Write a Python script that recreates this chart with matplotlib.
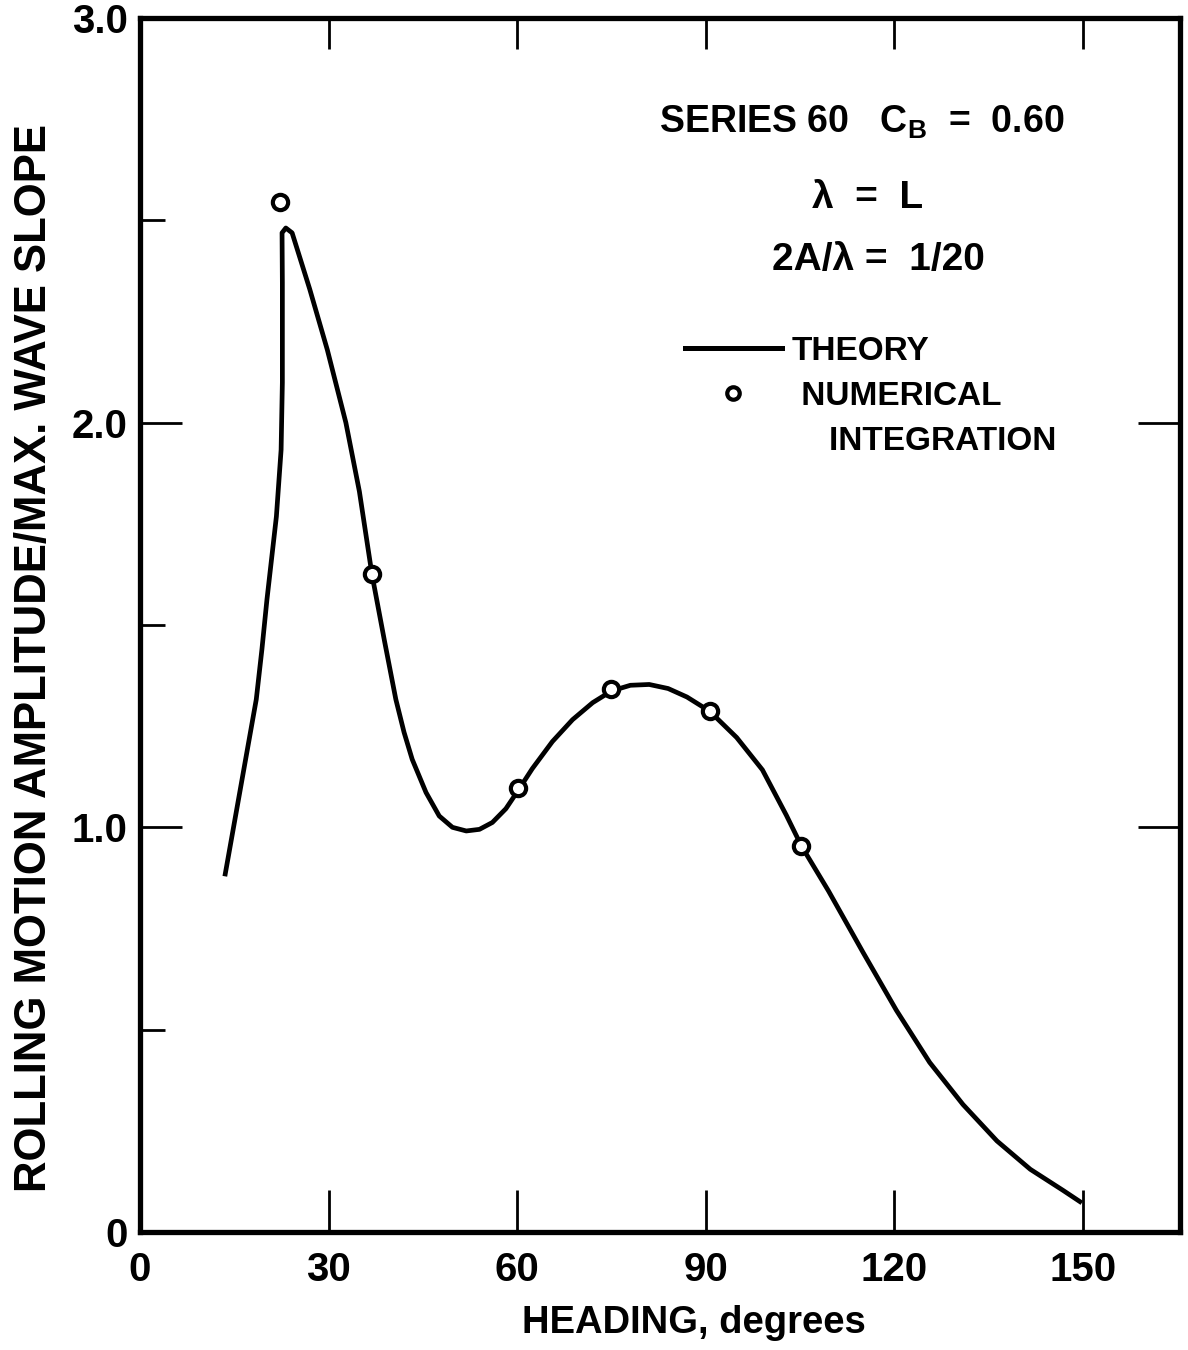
import numpy as np
import matplotlib.pyplot as plt
from matplotlib.lines import Line2D

plt.rcParams['font.family'] = ['Liberation Sans', 'DejaVu Sans']
plt.rcParams['font.weight'] = 'bold'
plt.rcParams['axes.labelweight'] = 'bold'
plt.rcParams['mathtext.fontset'] = 'custom'
plt.rcParams['mathtext.rm'] = 'Liberation Sans:bold'
plt.rcParams['mathtext.bf'] = 'Liberation Sans:bold'

# theory curve (heading in degrees, roll / max wave slope)
heading_theory = [13.5, 18.5, 19.4, 20.2, 21.7, 22.45, 22.65, 22.65, 22.6, 23.2,
                  24.2, 27.0, 29.8, 32.75, 34.9, 36.9, 38.9, 40.7, 42.0, 43.3,
                  45.5, 47.6, 49.7, 51.9, 54.0, 56.05, 58.2, 60.1, 62.4, 65.6,
                  68.8, 72.0, 75.0, 78.0, 81.0, 84.0, 87.0, 90.6, 94.9, 99.0,
                  102.8, 105.2, 109.5, 115.0, 120.3, 125.6, 130.9, 136.3, 141.6,
                  146.8, 149.8]
roll_theory = [0.879, 1.316, 1.440, 1.563, 1.768, 1.933, 2.099, 2.346, 2.469, 2.481,
               2.469, 2.330, 2.180, 2.000, 1.830, 1.625, 1.460, 1.316, 1.235, 1.168,
               1.086, 1.028, 1.000, 0.991, 0.995, 1.012, 1.046, 1.090, 1.145, 1.212,
               1.266, 1.308, 1.337, 1.351, 1.353, 1.343, 1.322, 1.287, 1.222, 1.142,
               1.030, 0.954, 0.843, 0.691, 0.548, 0.419, 0.315, 0.225, 0.155,
               0.103, 0.072]

# numerical integration points
heading_num = [22.3, 36.9, 60.1, 74.9, 90.6, 105.2]
roll_num = [2.546, 1.625, 1.096, 1.341, 1.287, 0.954]

xticks = [0, 30, 60, 90, 120, 150]
yticks = [0, 1, 2, 3]
ytick_labels = ['0', '1.0', '2.0', '3.0']
yminor = [0.5, 1.5, 2.5]

fig = plt.figure(figsize=(11.88, 13.5), dpi=100)
ax = fig.add_axes([0.1178, 0.0874, 0.8754, 0.8993])

ax.plot(heading_theory, roll_theory, color='black', lw=3.4,
        solid_joinstyle='round', solid_capstyle='butt')
ax.plot(heading_num, roll_num, linestyle='none', marker='o', ms=11,
        mfc='white', mec='black', mew=3)

ax.set_xlim(0, 165.4)
ax.set_ylim(0, 3.0)

for s in ax.spines.values():
    s.set_linewidth(3.8)

ax.set_xticks(xticks)
ax.set_xticklabels([str(t) for t in xticks])
ax.set_yticks(yticks)
ax.set_yticklabels(ytick_labels)
ax.set_yticks(yminor, minor=True)
ax.tick_params(axis='x', which='major', direction='in', length=30, width=2,
               pad=14, labelsize=29)
ax.tick_params(axis='y', which='major', direction='in', length=30, width=2,
               pad=9, labelsize=29)
ax.tick_params(axis='y', which='minor', direction='in', length=18, width=2)

# top and right ticks
top = ax.secondary_xaxis('top')
top.set_xticks(xticks[1:])
top.tick_params(direction='in', length=22, width=2, labeltop=False)
right = ax.secondary_yaxis('right')
right.set_yticks([1, 2])
right.tick_params(direction='in', length=30, width=2, labelright=False)

ax.set_xlabel('HEADING, degrees', fontsize=27.5)
ax.xaxis.set_label_coords(0.533, -0.060)
ax.set_ylabel('ROLLING MOTION AMPLITUDE/MAX. WAVE SLOPE', fontsize=31.5)
ax.yaxis.set_label_coords(-0.082, 0.473)

ax.text(82.6, 2.741, r'SERIES 60   C$_\mathregular{B}$  =  0.60', fontsize=27,
        ha='left', va='center')
ax.text(115.8, 2.556, 'λ  =  L', fontsize=28, ha='center', va='center')
ax.text(117.4, 2.402, '2A/λ =  1/20', fontsize=28, ha='center', va='center')

handles = [Line2D([], [], color='black', lw=3.6),
           Line2D([], [], linestyle='none', marker='o', ms=9, mfc='white',
                  mec='black', mew=3),
           Line2D([], [], linestyle='none')]
labels = ['THEORY', ' NUMERICAL', '    INTEGRATION']
ax.legend(handles, labels, loc='upper left', bbox_to_anchor=(0.524, 0.738),
          frameon=False, fontsize=24, handlelength=2.9, handletextpad=0.3,
          labelspacing=0.42, borderpad=0, borderaxespad=0)

fig.savefig('out.png', dpi=100)
